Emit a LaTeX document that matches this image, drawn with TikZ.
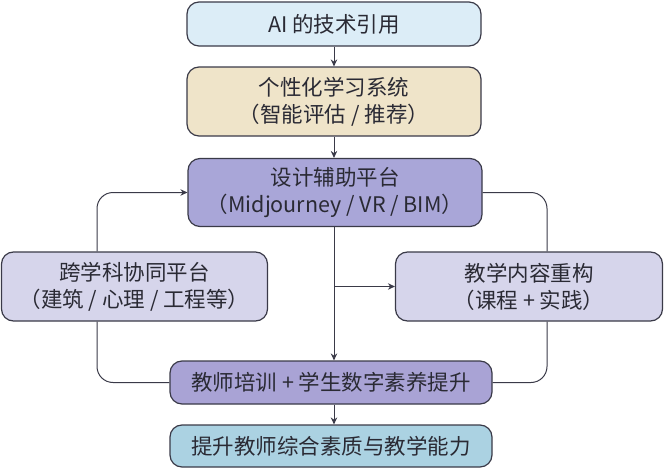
\documentclass[tikz,border=0pt]{standalone}
\usepackage{fontspec}
\setmainfont{Noto Sans CJK SC}
\usetikzlibrary{arrows.meta}
\definecolor{cA}{HTML}{DCEDF7}
\definecolor{cB}{HTML}{EFE4C9}
\definecolor{cC}{HTML}{A9A6D8}
\definecolor{cD}{HTML}{D6D5EB}
\definecolor{cE}{HTML}{A9A3D5}
\definecolor{cF}{HTML}{ABD2E2}
\definecolor{edge}{HTML}{3A3A48}
\definecolor{txt}{HTML}{2A2A34}
\tikzset{
  box/.style={draw=edge, line width=1.2pt, rounded corners=12pt, align=center, text=txt,
    font=\fontsize{21.5}{27}\selectfont, inner sep=0pt},
  arr/.style={draw=edge, line width=1pt, -{Stealth[length=7pt,width=6.5pt]}},
  ln/.style={draw=edge, line width=1pt, rounded corners=16pt},
}
\begin{document}
\begin{tikzpicture}[x=1pt,y=-1pt]
\useasboundingbox (0,0) rectangle (665,471);
\node[box, fill=cA, minimum width=294pt, minimum height=44pt] (b1) at (334,24) {AI 的技术引用};
\node[box, fill=cB, minimum width=294pt, minimum height=69pt] (b2) at (334,101.5) {个性化学习系统\\（智能评估 / 推荐）};
\node[box, fill=cC, minimum width=294pt, minimum height=68pt] (b3) at (335,192.5) {设计辅助平台\\（Midjourney / VR / BIM）};
\node[box, fill=cD, minimum width=266pt, minimum height=69pt] (lf) at (134.5,286.5) {跨学科协同平台\\（建筑 / 心理 / 工程等）};
\node[box, fill=cD, minimum width=267pt, minimum height=69pt] (rt) at (529,286.5) {教学内容重构\\（课程 + 实践）};
\node[box, fill=cE, minimum width=322pt, minimum height=43pt] (b5) at (331,382.5) {教师培训 + 学生数字素养提升};
\node[box, fill=cF, minimum width=322pt, minimum height=42pt] (b6) at (331,446) {提升教师综合素质与教学能力};
\coordinate (mx) at (334,0);
\coordinate (br) at (mx |- rt.west);
\draw[arr] (b1.south -| mx) -- (b2.north -| mx);
\draw[arr] (b2.south -| mx) -- (b3.north -| mx);
\draw[arr] (b3.south -| mx) -- (b5.north -| mx);
\draw[arr] (br) -- (rt.west);
\draw[arr] (b5.south -| mx) -- (b6.north -| mx);
\draw[ln, -{Stealth[length=7pt,width=6.5pt]}] ([xshift=-37.5pt]lf.north) |- (b3.west);
\draw[ln] (b3.east) -| ([xshift=18pt]rt.north);
\draw[ln] ([xshift=-37.5pt]lf.south) |- (b5.west);
\draw[ln] ([xshift=18pt]rt.south) |- (b5.east);
\end{tikzpicture}
\end{document}
